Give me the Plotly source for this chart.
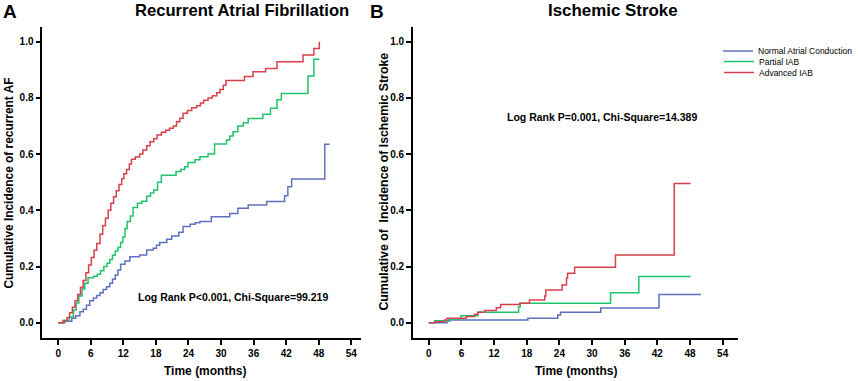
import plotly.graph_objects as go

W, H = 858, 381

series_names = ["Normal Atrial Conduction", "Partial IAB", "Advanced IAB"]
colors = ["#5e71c0", "#1ec46c", "#d8404c"]

# Panel A: Recurrent Atrial Fibrillation
a_normal_t = [0, 1.2, 2.5, 3.2, 4.0, 4.6, 5.2, 5.8, 6.5, 7.1, 7.7, 8.3, 8.9, 9.5, 10.0, 10.5, 11.0, 11.5,
              12.3, 13.2, 15.0, 16.3, 17.5, 18.1, 18.7, 20.0, 20.9, 22.2, 23.0, 24.3, 25.2, 26.1, 28.2,
              31.6, 33.1, 35.0, 38.4, 41.7, 42.3, 43.0, 49.1, 50.0]
a_normal_y = [0, 0.005, 0.016, 0.025, 0.039, 0.048, 0.062, 0.078, 0.088, 0.097, 0.107, 0.118, 0.128, 0.140,
              0.155, 0.170, 0.188, 0.208, 0.220, 0.235, 0.241, 0.259, 0.265, 0.276, 0.285, 0.297, 0.309,
              0.322, 0.342, 0.350, 0.356, 0.360, 0.377, 0.389, 0.407, 0.419, 0.431, 0.452, 0.484, 0.511,
              0.635, 0.635]

a_partial_t = [0, 1.0, 2.0, 2.8, 3.3, 3.8, 4.4, 4.9, 5.5, 6.5, 7.2, 7.8, 8.4, 9.0, 9.5, 10.0, 10.5, 11.0,
               11.5, 11.9, 12.3, 12.7, 13.3, 13.8, 14.6, 15.4, 16.3, 17.0, 17.6, 18.3, 19.0, 21.7, 22.6,
               23.3, 23.9, 25.2, 26.1, 27.6, 28.8, 31.0, 31.6, 32.2, 33.1, 34.1, 35.0, 37.7, 39.1, 40.3,
               41.1, 46.0, 47.1, 48.1]
a_partial_y = [0, 0.008, 0.020, 0.045, 0.070, 0.095, 0.120, 0.140, 0.160, 0.165, 0.172, 0.185, 0.200, 0.212,
               0.225, 0.240, 0.255, 0.268, 0.285, 0.305, 0.335, 0.360, 0.380, 0.410, 0.425, 0.432, 0.450,
               0.462, 0.472, 0.500, 0.525, 0.538, 0.545, 0.555, 0.570, 0.580, 0.591, 0.600, 0.636, 0.650,
               0.664, 0.680, 0.700, 0.712, 0.727, 0.742, 0.763, 0.793, 0.816, 0.878, 0.938, 0.938]

a_advanced_t = [0, 0.9, 1.6, 2.1, 2.6, 3.1, 3.6, 4.1, 4.6, 5.1, 5.6, 6.1, 6.6, 7.1, 7.7, 8.2, 8.7, 9.2, 9.7,
                10.2, 10.7, 11.2, 11.7, 12.1, 12.6, 13.1, 13.5, 14.2, 15.0, 15.6, 16.3, 16.9, 17.6, 18.2,
                19.0, 19.8, 20.5, 21.2, 21.8, 22.4, 23.0, 23.8, 24.6, 25.5, 26.2, 26.8, 27.6, 28.4, 29.2,
                29.8, 30.4, 30.9, 34.3, 35.9, 38.2, 40.3, 45.1, 47.1, 48.1]
a_advanced_y = [0, 0.008, 0.018, 0.035, 0.055, 0.078, 0.100, 0.125, 0.150, 0.178, 0.205, 0.232, 0.258, 0.282,
                0.315, 0.345, 0.372, 0.400, 0.425, 0.448, 0.470, 0.492, 0.512, 0.530, 0.545, 0.565, 0.582,
                0.590, 0.600, 0.615, 0.630, 0.644, 0.655, 0.668, 0.678, 0.685, 0.692, 0.700, 0.715, 0.728,
                0.745, 0.755, 0.765, 0.772, 0.782, 0.792, 0.800, 0.808, 0.818, 0.830, 0.845, 0.862, 0.876,
                0.893, 0.905, 0.929, 0.953, 0.976, 1.000]

# Panel B: Ischemic Stroke
b_normal_t = [0, 3.4, 3.8, 18.2, 23.7, 24.2, 31.6, 42.3, 50.0]
b_normal_y = [0, 0.006, 0.010, 0.016, 0.027, 0.037, 0.052, 0.100, 0.100]

b_partial_t = [0, 1.1, 3.7, 5.9, 9.0, 16.5, 16.8, 33.4, 38.6, 48.1]
b_partial_y = [0, 0.007, 0.013, 0.025, 0.037, 0.057, 0.069, 0.107, 0.164, 0.164]

b_advanced_t = [0, 1.1, 2.9, 3.3, 6.9, 8.4, 9.0, 10.3, 12.4, 13.2, 16.7, 18.5, 21.3, 21.5, 24.5, 25.3, 25.5,
                26.8, 34.3, 45.1, 48.1]
b_advanced_y = [0, 0.003, 0.010, 0.016, 0.022, 0.030, 0.037, 0.043, 0.053, 0.065, 0.069, 0.081, 0.095,
                0.116, 0.134, 0.158, 0.176, 0.197, 0.241, 0.495, 0.495]

x_ticks = [0, 6, 12, 18, 24, 30, 36, 42, 48, 54]
y_ticks = [0.0, 0.2, 0.4, 0.6, 0.8, 1.0]

FONT = "Liberation Sans, Arial, sans-serif"

fig = go.Figure()

panel_a = [(a_normal_t, a_normal_y), (a_partial_t, a_partial_y), (a_advanced_t, a_advanced_y)]
panel_b = [(b_normal_t, b_normal_y), (b_partial_t, b_partial_y), (b_advanced_t, b_advanced_y)]
legend_ids = ["legend", "legend2", "legend3"]

for i, (t, y) in enumerate(panel_a):
    fig.add_trace(go.Scatter(x=t, y=y, mode="lines", line=dict(color=colors[i], width=1.5, shape="hv"),
                             name=series_names[i], showlegend=False, xaxis="x", yaxis="y", hoverinfo="skip"))
for i, (t, y) in enumerate(panel_b):
    fig.add_trace(go.Scatter(x=t, y=y, mode="lines", line=dict(color=colors[i], width=1.5, shape="hv"),
                             name=series_names[i], showlegend=True, legend=legend_ids[i],
                             xaxis="x2", yaxis="y2", hoverinfo="skip"))

def px_x(p):
    return p / W

def px_y(p):
    return 1 - p / H

axis_common = dict(showline=True, linecolor="black", linewidth=1.5, ticks="outside", ticklen=5,
                   tickwidth=1.5, tickcolor="black", showgrid=False, zeroline=False,
                   tickfont=dict(family=FONT, size=10, color="black", weight="bold"), fixedrange=True)

fig.update_layout(
    width=W, height=H, margin=dict(l=0, r=0, t=0, b=0),
    paper_bgcolor="white", plot_bgcolor="white",
    xaxis=dict(domain=[px_x(42.3), px_x(361)], range=[-2.94, 55.7], tickvals=x_ticks, anchor="y", **axis_common),
    yaxis=dict(domain=[px_y(338.3), px_y(26.7)], range=[-0.0555, 1.0534], tickvals=y_ticks, tickformat=".1f",
               anchor="x", **axis_common),
    xaxis2=dict(domain=[px_x(413.3), px_x(739.3)], range=[-2.94, 56.9], tickvals=x_ticks, anchor="y2", **axis_common),
    yaxis2=dict(domain=[px_y(338.3), px_y(26.7)], range=[-0.0555, 1.0534], tickvals=y_ticks, tickformat=".1f",
                anchor="x2", **axis_common),
)

leg_rows = [51, 61.5, 72.5]
for i, lid in enumerate(legend_ids):
    fig.update_layout({lid: dict(x=px_x(719), y=px_y(leg_rows[i]), xanchor="left", yanchor="middle",
                                 bgcolor="rgba(0,0,0,0)", borderwidth=0, itemwidth=30,
                                 font=dict(family=FONT, size=8.5, color="black"))})

def ann(text, x, y, size, bold=True, angle=0):
    fig.add_annotation(text=text, x=px_x(x), y=px_y(y), xref="paper", yref="paper", showarrow=False,
                       xanchor="center", yanchor="middle", textangle=angle,
                       font=dict(family=FONT, size=size, color="black", weight="bold" if bold else "normal"))

ann("A", 9.7, 11.2, 19)
ann("B", 377.5, 11.2, 19)
ann("Recurrent Atrial Fibrillation", 242.5, 10.7, 16.6)
ann("Ischemic Stroke", 613.3, 10.7, 16.9)
ann("Log Rank P<0.001, Chi-Square=99.219", 233.3, 297.3, 10.5)
ann("Log Rank P=0.001, Chi-Square=14.389", 602.5, 117.3, 10.5)
ann("Time (months)", 205.7, 371, 12)
ann("Time (months)", 576.7, 371, 12)
ann("Cumulative Incidence of recurrent AF", 9, 182.5, 11.9, angle=-90)
ann("Cumulative of  Incidence of Ischemic Stroke", 384, 182, 12.3, angle=-90)

fig.write_html("out.html", config={"displayModeBar": False},
               post_script="document.body.style.margin='0';document.body.style.overflow='hidden';")
